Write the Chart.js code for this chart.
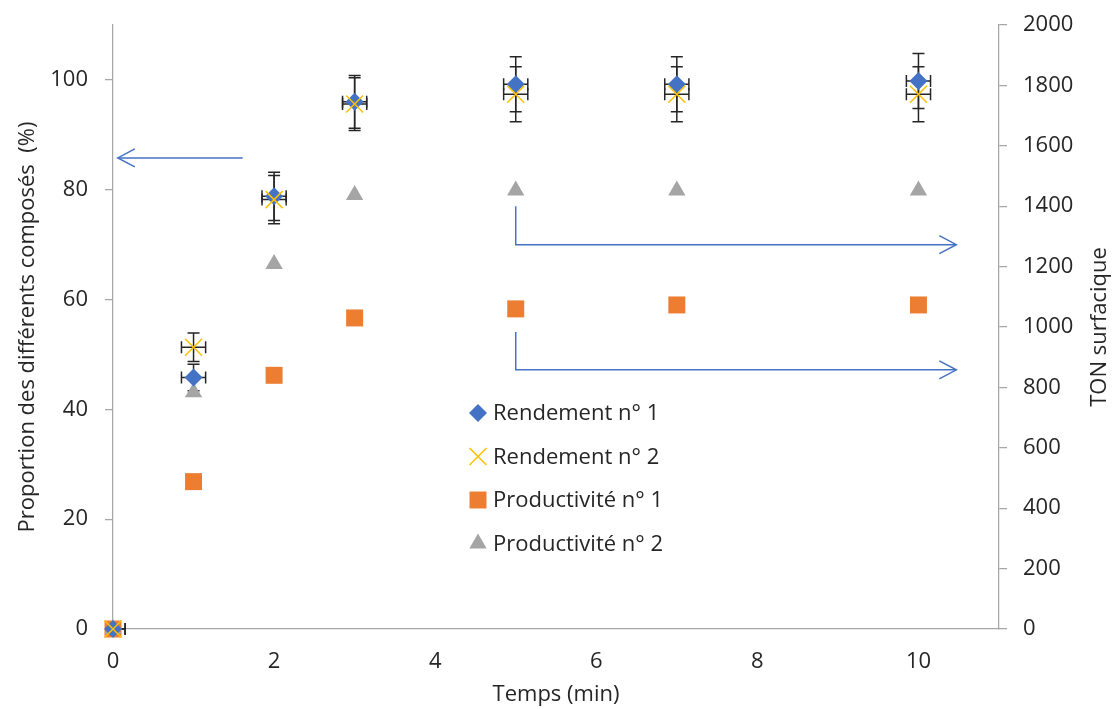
<!DOCTYPE html>
<html lang="fr">
<head>
<meta charset="utf-8">
<title>Rendement et productivité en fonction du temps</title>
<script src="https://cdn.jsdelivr.net/npm/chart.js@4.4.1/dist/chart.umd.min.js"></script>
<style>
  html, body { margin: 0; padding: 0; background: #fff; }
  canvas { display: block; }
</style>
</head>
<body>
<canvas id="graphique" width="1116" height="709"></canvas>
<script>
// Valeurs
const temps = [0, 1, 2, 3, 5, 7, 10];
const rendement1 = [0, 45.8, 78.8, 96.0, 99.2, 99.2, 99.8];
const rendement2 = [0, 51.3, 78.2, 95.6, 97.4, 97.4, 97.4];
const productivite1 = [0, 488, 840, 1030, 1060, 1073, 1073];
const productivite2 = [0, 784, 1209, 1437, 1452, 1452, 1452];
const erreurY1 = [0, 2.4, 4.4, 4.8, 5.0, 5.0, 5.0];
const erreurY2 = [0, 2.6, 4.4, 4.8, 5.0, 5.0, 5.0];
const erreurX = [0.15, 0.15, 0.15, 0.15, 0.15, 0.15, 0.15];
const ticksGauche = [0, 20, 40, 60, 80, 100];
const ticksDroite = [0, 200, 400, 600, 800, 1000, 1200, 1400, 1600, 1800, 2000];
const ticksTemps = [0, 2, 4, 6, 8, 10];

// Flèches (coordonnées dans le repère temps / axe de gauche)
const fleches = [
    [[1.61, 85.8], [0.06, 85.8]],
    [[5, 77.0], [5, 70.0], [10.47, 70.0]],
    [[5, 54.1], [5, 47.2], [10.47, 47.2]]
];

const police = "'Open Sans', 'DejaVu Sans', sans-serif";
const texte = '#262626';
const gris = '#A6A6A6';

function points(valeurs) {
    return temps.map((t, i) => ({ x: t, y: valeurs[i] }));
}

// Barres d'erreur, dessinées sous les marqueurs
const barresErreur = {
    id: 'barresErreur',
    beforeDatasetsDraw(chart) {
        const ctx = chart.ctx;
        const sx = chart.scales.x;
        const a = chart.chartArea;
        chart.data.datasets.forEach(ds => {
            if (!ds.erreurY) return;
            const sy = chart.scales[ds.yAxisID];
            ctx.save();
            ctx.beginPath();
            ctx.rect(a.left, 0, chart.width - a.left, chart.height);
            ctx.clip();
            ctx.strokeStyle = texte;
            ctx.lineWidth = 1.5;
            ds.data.forEach((p, k) => {
                const cx = sx.getPixelForValue(p.x);
                const cy = sy.getPixelForValue(p.y);
                const ey = ds.erreurY[k];
                const ex = ds.erreurX[k];
                ctx.beginPath();
                if (ey > 0) {
                    const y1 = sy.getPixelForValue(p.y + ey);
                    const y2 = sy.getPixelForValue(p.y - ey);
                    ctx.moveTo(cx, y1); ctx.lineTo(cx, y2);
                    ctx.moveTo(cx - 6, y1); ctx.lineTo(cx + 6, y1);
                    ctx.moveTo(cx - 6, y2); ctx.lineTo(cx + 6, y2);
                }
                if (ex > 0) {
                    const x1 = sx.getPixelForValue(p.x - ex);
                    const x2 = sx.getPixelForValue(p.x + ex);
                    ctx.moveTo(x1, cy); ctx.lineTo(x2, cy);
                    ctx.moveTo(x1, cy - 6); ctx.lineTo(x1, cy + 6);
                    ctx.moveTo(x2, cy - 6); ctx.lineTo(x2, cy + 6);
                }
                ctx.stroke();
            });
            ctx.restore();
        });
    }
};

// Flèches bleues, légende dans la zone du graphique, titre de l'axe de droite
const annotations = {
    id: 'annotations',
    afterDraw(chart) {
        const ctx = chart.ctx;
        const sx = chart.scales.x;
        const sy = chart.scales.y;
        const a = chart.chartArea;

        ctx.save();
        ctx.strokeStyle = '#4472C4';
        ctx.lineWidth = 1.5;
        fleches.forEach(f => {
            const px = f.map(p => [sx.getPixelForValue(p[0]), sy.getPixelForValue(p[1])]);
            ctx.beginPath();
            ctx.moveTo(px[0][0], px[0][1]);
            for (let i = 1; i < px.length; i++) ctx.lineTo(px[i][0], px[i][1]);
            ctx.stroke();
            const [bx, by] = px[px.length - 1];
            const [ax, ay] = px[px.length - 2];
            const ang = Math.atan2(by - ay, bx - ax);
            ctx.beginPath();
            ctx.moveTo(bx - 17 * Math.cos(ang) + 9 * Math.sin(ang), by - 17 * Math.sin(ang) - 9 * Math.cos(ang));
            ctx.lineTo(bx, by);
            ctx.lineTo(bx - 17 * Math.cos(ang) - 9 * Math.sin(ang), by - 17 * Math.sin(ang) + 9 * Math.cos(ang));
            ctx.stroke();
        });
        ctx.restore();

        // légende
        const ordre = [0, 1, 2, 3];
        const mx = a.left + 365;
        ctx.save();
        ctx.font = '22px ' + police;
        ctx.textBaseline = 'middle';
        ctx.textAlign = 'left';
        ordre.forEach((i, r) => {
            const ds = chart.data.datasets[i];
            const my = a.top + 388 + r * 43.5;
            ctx.fillStyle = ds.backgroundColor;
            ctx.strokeStyle = ds.borderColor;
            ctx.lineWidth = ds.borderWidth;
            Chart.helpers.drawPoint(ctx, {
                pointStyle: ds.pointStyle, radius: ds.pointRadius,
                rotation: 0, borderWidth: ds.borderWidth
            }, mx, my);
            ctx.fillStyle = texte;
            ctx.fillText(ds.label, mx + 15, my + 1);
        });
        ctx.restore();

        // titre de l'axe de droite
        ctx.save();
        ctx.font = '22px ' + police;
        ctx.fillStyle = texte;
        ctx.textAlign = 'center';
        ctx.textBaseline = 'middle';
        ctx.translate(chart.width - 16, (a.top + a.bottom) / 2);
        ctx.rotate(-Math.PI / 2);
        ctx.fillText('TON surfacique', 0, 0);
        ctx.restore();
    }
};

const sansMarge = s => { s.paddingTop = 0; s.paddingBottom = 0; };

const ctx = document.getElementById('graphique').getContext('2d');
new Chart(ctx, {
    type: 'scatter',
    data: {
        datasets: [{
            label: 'Rendement n° 1',
            data: points(rendement1),
            erreurY: erreurY1,
            erreurX: erreurX,
            yAxisID: 'y',
            pointStyle: 'rectRot',
            pointRadius: 9,
            backgroundColor: '#4472C4',
            borderColor: '#4472C4',
            borderWidth: 0,
            order: 2,
            clip: false
        }, {
            label: 'Rendement n° 2',
            data: points(rendement2),
            erreurY: erreurY2,
            erreurX: erreurX,
            yAxisID: 'y',
            pointStyle: 'crossRot',
            pointRadius: 12,
            backgroundColor: '#FFC000',
            borderColor: '#FFC000',
            borderWidth: 1.5,
            order: 1,
            clip: false
        }, {
            label: 'Productivité n° 1',
            data: points(productivite1),
            yAxisID: 'y1',
            pointStyle: 'rect',
            pointRadius: 12,
            backgroundColor: '#ED7D31',
            borderColor: '#ED7D31',
            borderWidth: 0,
            order: 4,
            clip: false
        }, {
            label: 'Productivité n° 2',
            data: points(productivite2),
            yAxisID: 'y1',
            pointStyle: 'triangle',
            pointRadius: 10,
            backgroundColor: '#A5A5A5',
            borderColor: '#A5A5A5',
            borderWidth: 0,
            order: 3,
            clip: false
        }]
    },
    options: {
        responsive: false,
        animation: false,
        layout: { padding: { top: 25, left: 0, right: 0, bottom: 0 } },
        plugins: {
            legend: { display: false },
            tooltip: { enabled: false }
        },
        scales: {
            x: {
                type: 'linear',
                min: 0,
                max: 11,
                afterBuildTicks: s => { s.ticks = ticksTemps.map(v => ({ value: v })); },
                afterFit: s => { s.height = 80; },
                grid: { drawOnChartArea: false, drawTicks: false },
                border: { display: true, color: gris, width: 1.25 },
                ticks: { padding: 20, color: texte, font: { family: police, size: 22 }, callback: v => String(v) },
                title: {
                    display: true, text: 'Temps (min)', color: texte,
                    font: { family: police, size: 22 }, padding: { top: 0, bottom: 1 }
                }
            },
            y: {
                position: 'left',
                min: 0,
                max: 110,
                afterBuildTicks: s => { s.ticks = ticksGauche.map(v => ({ value: v })); },
                afterFit: s => { s.width = 113; sansMarge(s); },
                grid: { drawOnChartArea: false, drawTicks: true, tickLength: 8, color: gris, lineWidth: 1.25 },
                border: { display: true, color: gris, width: 1.25 },
                ticks: { padding: 17, color: texte, font: { family: police, size: 22 }, callback: v => String(v) },
                title: {
                    display: true, text: 'Proportion des différents composés  (%)', color: texte,
                    font: { family: police, size: 22 }, padding: { top: 15, bottom: 0 }
                }
            },
            y1: {
                position: 'right',
                min: 0,
                max: 2000,
                afterBuildTicks: s => { s.ticks = ticksDroite.map(v => ({ value: v })); },
                afterFit: s => { s.width = 117; sansMarge(s); },
                grid: { drawOnChartArea: false, drawTicks: true, tickLength: 8, color: gris, lineWidth: 1.25 },
                border: { display: true, color: gris, width: 1.25 },
                ticks: { padding: 16, color: texte, font: { family: police, size: 22 }, callback: v => String(v) }
            }
        }
    },
    plugins: [barresErreur, annotations]
});
</script>
</body>
</html>
